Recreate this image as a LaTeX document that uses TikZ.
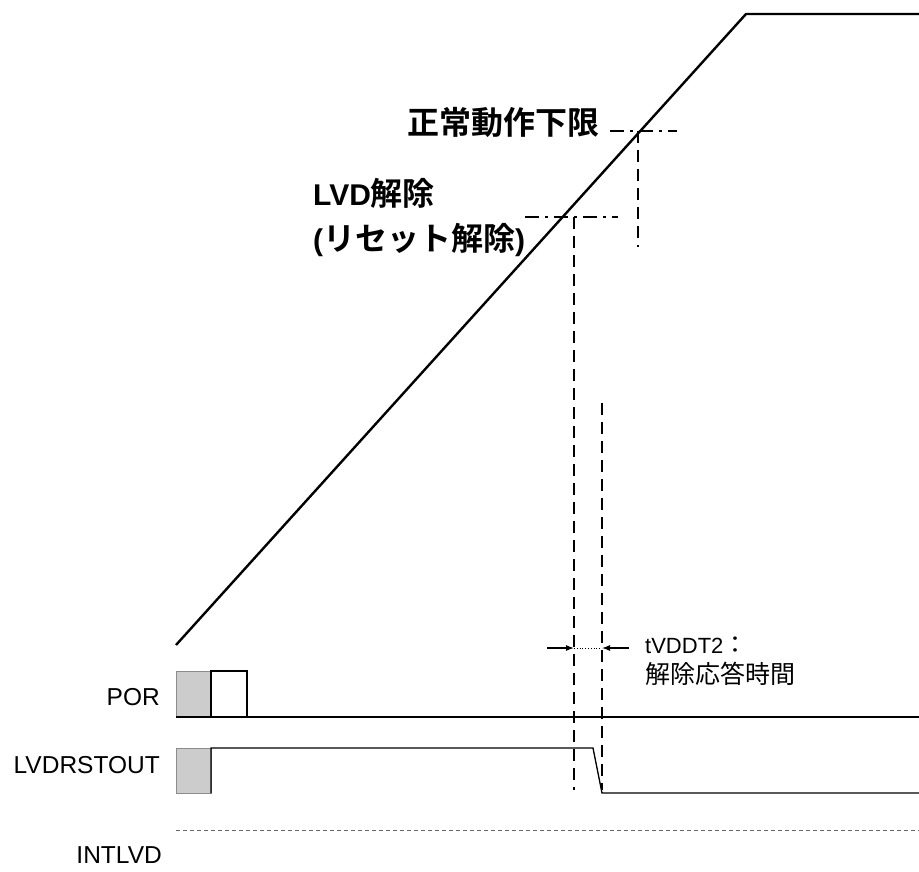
\documentclass[tikz,border=0pt]{standalone}
\usepackage{fontspec}
\setmainfont{Liberation Sans}
\newfontfamily\cjk{Noto Sans CJK JP}[BoldFont={Noto Sans CJK JP Bold}]
\usetikzlibrary{arrows.meta}
\begin{document}
\begin{tikzpicture}[x=1pt,y=-1pt,
  vdd/.style={line width=2.4pt, line join=miter},
  sig/.style={line width=1.3pt},
  vdash/.style={line width=1.8pt, dash pattern=on 12pt off 7pt},
  ddot/.style={line width=1.2pt, dash pattern=on 14pt off 6pt on 3pt off 6pt},
  lbl/.style={inner sep=0pt, anchor=base east, font=\fontsize{24.5}{28}\selectfont},
  big/.style={inner sep=0pt, anchor=base west, font=\bfseries\fontsize{30}{34}\selectfont},
  small/.style={inner sep=0pt, anchor=base west, font=\fontsize{22}{25}\selectfont},
  grayfill/.style={fill=black!20, draw=black!45, line width=1pt},
  meas/.style={line width=1.1pt, -{Latex[length=8pt,width=6pt]}}
]
\useasboundingbox (0,0) rectangle (919,872);

% VDD ramp
\coordinate (v0) at (176,645);
\coordinate (vtop) at (746,14);
\coordinate (vend) at (919,14);
\draw[vdd] (v0) -- (vtop) -- (vend);

% Normal operation lower limit
\coordinate (nA) at (610,131);
\coordinate (nB) at (677,131);
\coordinate (nX) at (638,131);
\coordinate (nXb) at (638,247);
\draw[ddot] (nA) -- (nB);
\draw[vdash] (nX) -- (nXb);

% LVD release
\coordinate (lA) at (525,217);
\coordinate (lB) at (618,217);
\coordinate (lX) at (574,217);
\coordinate (lXb) at (574,790);
\draw[ddot] (lA) -- (lB);
\draw[vdash] (lX) -- (lXb);

% response-time vertical
\coordinate (rX) at (602,403);
\coordinate (rXb) at (602,790);
\draw[vdash] (rX) -- (rXb);

% measurement arrows
\coordinate (aL) at (547,648);
\coordinate (aLx) at (574,648);
\coordinate (aR) at (629,648);
\coordinate (aRx) at (602,648);
\draw[meas] (aL) -- (aLx);
\draw[meas] (aR) -- (aRx);
\draw[line width=0.8pt, dotted] (aLx) -- (aRx);

% POR
\coordinate (p0) at (176,671);
\coordinate (p1) at (211,717);
\coordinate (p2) at (211,671);
\coordinate (p3) at (247,717);
\coordinate (pend) at (919,717);
\coordinate (pstart) at (176,717);
\draw[grayfill] (p0) rectangle (p1);
\draw[sig] (p2) rectangle (p3);
\draw[sig] (pstart) -- (pend);

% LVDRSTOUT
\coordinate (r0) at (176,748);
\coordinate (r1) at (211,793);
\coordinate (r2) at (211,748);
\coordinate (r3) at (593,748);
\coordinate (r4) at (602,793);
\coordinate (r5) at (919,793);
\draw[grayfill] (r0) rectangle (r1);
\draw[sig] (r1) -- (r2) -- (r3) -- (r4) -- (r5);

% INTLVD
\coordinate (i0) at (176,830);
\coordinate (i1) at (919,830);
\draw[line width=1pt, black!60, dash pattern=on 4pt off 3pt] (i0) -- (i1);

% labels
\node[lbl] (por) at (160,705) {POR};
\node[lbl] (lvdrst) at (160,773) {LVDRSTOUT};
\node[lbl] (intlvd) at (162,863) {INTLVD};

\node[big] (normal) at (407,135) {{\cjk\fontsize{32}{34}\selectfont\bfseries 正常動作下限}};
\node[big] (lvd1) at (313,206) {LVD{\cjk\fontsize{32}{34}\selectfont\bfseries 解除}};
\node[big] (lvd2) at (313,250) {({\cjk\fontsize{32}{34}\selectfont\bfseries リセット解除})};

\node[small] (t1) at (645,653) {tVDDT2{\cjk\fontsize{24}{28}\selectfont ：}};
\node[small] (t2) at (645,683) {{\cjk\fontsize{25}{28}\selectfont 解除応答時間}};
\end{tikzpicture}
\end{document}
